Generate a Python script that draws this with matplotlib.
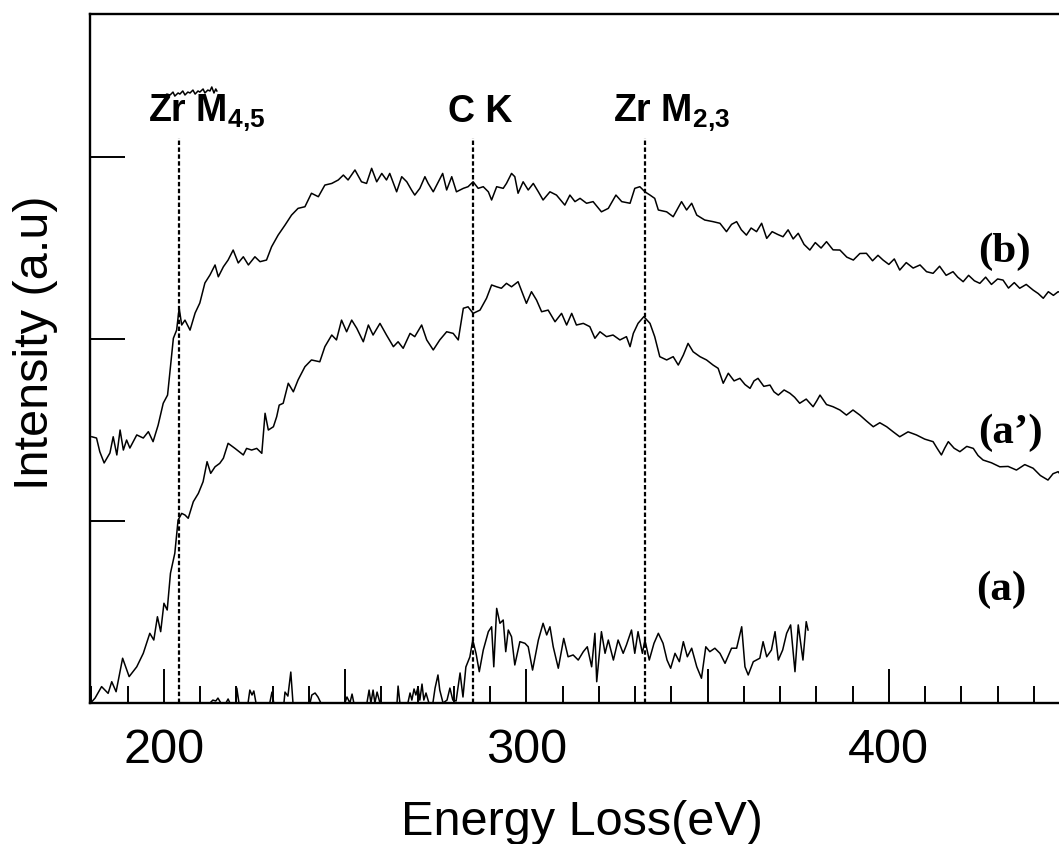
"""EELS spectra (a), (a'), (b) with Zr M4,5 / C K / Zr M2,3 edge markers."""
import matplotlib
matplotlib.use("Agg")
import matplotlib.pyplot as plt
from matplotlib.ticker import MultipleLocator, FuncFormatter

plt.rcParams.update({"font.family": "Liberation Sans",
                     "mathtext.fontset": "custom",
                     "mathtext.rm": "Liberation Sans",
                     "mathtext.bf": "Liberation Sans:bold"})

# ---- data (energy loss in eV, intensity in arbitrary units) ----------------
e_b = [180.1, 181.4, 182.3, 183.5, 185.1, 186.0, 187.0, 187.9, 188.8, 189.7, 190.6, 192.5,
       194.3, 195.7, 197.0, 198.4, 199.8, 201.0, 201.9, 202.6, 203.5, 204.2, 204.9, 205.8,
       207.2, 208.6, 209.9, 211.3, 212.7, 214.1, 215.0, 216.4, 217.7, 219.1, 220.5, 221.9,
       223.3, 225.1, 226.5, 228.3, 229.7, 231.5, 233.4, 235.2, 237.0, 238.9, 240.7, 242.6,
       244.4, 246.3, 248.1, 249.5, 250.8, 252.7, 254.5, 255.9, 257.3, 258.7, 260.1, 261.4,
       262.3, 264.2, 265.6, 267.0, 268.3, 269.2, 270.6, 272.0, 272.9, 274.3, 275.7, 276.9,
       278.0, 279.4, 280.7, 282.6, 283.9, 285.3, 286.7, 288.1, 289.5, 290.4, 291.8, 293.6,
       294.5, 295.9, 296.8, 297.7, 299.1, 300.5, 301.9, 303.3, 304.6, 306.5, 308.3, 310.6,
       312.0, 313.4, 314.8, 316.6, 318.4, 320.7, 322.6, 324.7, 326.3, 328.6, 329.9, 331.3,
       332.7, 334.1, 335.4, 336.4, 338.7, 340.5, 342.8, 344.2, 345.6, 347.0, 349.2, 351.5,
       353.4, 355.2, 356.6, 358.0, 359.3, 360.7, 362.0, 363.5, 364.9, 366.3, 367.8, 369.3,
       370.8, 372.2, 373.6, 375.0, 376.6, 378.2, 379.7, 381.3, 382.8, 384.6, 386.5, 388.4,
       390.2, 392.0, 393.8, 395.5, 397.0, 398.4, 400.0, 401.5, 403.0, 404.8, 406.7, 408.6,
       410.4, 412.2, 414.0, 415.8, 417.7, 419.0, 420.5, 422.0, 423.6, 425.1, 426.7, 428.3,
       430.0, 431.5, 433.0, 434.6, 436.1, 437.9, 439.8, 441.2, 442.6, 444.0, 445.4, 446.7,
       448.0, 449.7]
i_b = [1.463, 1.456, 1.381, 1.319, 1.374, 1.463, 1.363, 1.500, 1.390, 1.445, 1.401, 1.473,
       1.456, 1.491, 1.436, 1.527, 1.647, 1.692, 1.868, 2.004, 2.049, 2.170, 2.077, 2.104,
       2.049, 2.143, 2.198, 2.308, 2.352, 2.407, 2.342, 2.397, 2.434, 2.489, 2.418, 2.452,
       2.407, 2.452, 2.425, 2.434, 2.507, 2.571, 2.626, 2.681, 2.718, 2.727, 2.801, 2.782,
       2.846, 2.855, 2.874, 2.901, 2.874, 2.929, 2.864, 2.855, 2.938, 2.864, 2.910, 2.874,
       2.910, 2.809, 2.892, 2.864, 2.819, 2.791, 2.828, 2.892, 2.855, 2.809, 2.864, 2.910,
       2.819, 2.892, 2.809, 2.828, 2.837, 2.864, 2.828, 2.837, 2.809, 2.764, 2.837, 2.828,
       2.855, 2.910, 2.892, 2.801, 2.864, 2.819, 2.855, 2.809, 2.764, 2.809, 2.791, 2.736,
       2.791, 2.755, 2.773, 2.746, 2.755, 2.699, 2.718, 2.791, 2.755, 2.746, 2.828, 2.837,
       2.809, 2.791, 2.773, 2.709, 2.699, 2.672, 2.755, 2.709, 2.746, 2.681, 2.654, 2.645,
       2.636, 2.590, 2.630, 2.645, 2.600, 2.571, 2.610, 2.590, 2.636, 2.553, 2.590, 2.575,
       2.562, 2.600, 2.550, 2.581, 2.520, 2.489, 2.530, 2.500, 2.535, 2.490, 2.489, 2.450,
       2.434, 2.470, 2.471, 2.430, 2.460, 2.434, 2.410, 2.440, 2.379, 2.420, 2.390, 2.407,
       2.370, 2.361, 2.400, 2.350, 2.370, 2.340, 2.315, 2.350, 2.320, 2.306, 2.340, 2.300,
       2.330, 2.324, 2.280, 2.310, 2.279, 2.300, 2.269, 2.250, 2.224, 2.260, 2.240, 2.260,
       2.250, 2.260]

e_ap = [180.1, 181.0, 182.8, 184.6, 185.6, 186.8, 188.6, 190.4, 192.5, 194.3, 196.1, 197.2,
        198.2, 199.1, 200.0, 200.9, 201.8, 203.0, 203.9, 204.9, 205.8, 206.7, 208.1, 209.5,
        210.8, 211.9, 212.9, 214.1, 215.4, 216.4, 217.7, 219.6, 221.9, 222.8, 224.2, 225.6,
        227.0, 227.9, 228.8, 230.2, 231.1, 231.8, 232.9, 234.3, 235.7, 237.0, 238.9, 240.7,
        243.0, 244.4, 246.3, 247.6, 249.0, 250.4, 251.8, 253.2, 255.0, 256.4, 257.7, 259.6,
        261.4, 263.3, 264.6, 266.0, 267.9, 269.2, 271.1, 272.5, 274.3, 276.1, 278.0, 279.8,
        281.2, 282.6, 283.9, 285.3, 287.2, 289.0, 290.4, 291.8, 293.1, 294.5, 295.9, 297.7,
        298.6, 300.0, 301.4, 302.8, 304.2, 306.0, 307.9, 309.7, 311.1, 312.5, 313.8, 315.7,
        317.5, 318.9, 320.3, 322.1, 323.9, 325.8, 327.6, 328.6, 329.5, 330.8, 332.4, 334.1,
        335.4, 336.8, 338.7, 340.5, 341.9, 343.3, 344.6, 346.0, 347.9, 349.7, 351.5, 352.9,
        354.3, 355.7, 357.3, 358.9, 360.3, 361.7, 362.8, 363.9, 365.5, 367.2, 368.3, 369.5,
        371.1, 372.7, 374.0, 375.4, 377.2, 379.1, 380.1, 381.0, 382.8, 384.6, 386.5, 388.3,
        390.1, 392.0, 393.8, 395.7, 397.5, 399.4, 401.2, 403.0, 405.3, 407.6, 409.9, 412.2,
        413.3, 414.5, 415.4, 416.4, 418.0, 419.6, 421.5, 423.3, 424.6, 426.0, 428.3, 430.6,
        432.9, 435.2, 437.5, 439.8, 441.8, 443.9, 445.3, 446.7, 448.0, 449.7]
i_ap = [0.007, 0.027, 0.090, 0.053, 0.117, 0.062, 0.246, 0.145, 0.199, 0.273, 0.383, 0.346,
        0.474, 0.392, 0.548, 0.511, 0.713, 0.823, 1.005, 1.042, 1.033, 1.015, 1.106, 1.152,
        1.216, 1.326, 1.262, 1.298, 1.317, 1.345, 1.427, 1.399, 1.363, 1.399, 1.390, 1.399,
        1.372, 1.592, 1.500, 1.518, 1.573, 1.637, 1.647, 1.757, 1.710, 1.775, 1.848, 1.885,
        1.875, 1.958, 2.022, 1.995, 2.104, 2.040, 2.104, 2.059, 1.985, 2.077, 2.022, 2.086,
        2.022, 1.958, 1.985, 1.949, 2.031, 2.013, 2.077, 1.995, 1.940, 1.995, 2.040, 2.031,
        1.995, 2.169, 2.177, 2.141, 2.159, 2.224, 2.297, 2.287, 2.279, 2.306, 2.287, 2.315,
        2.269, 2.196, 2.260, 2.214, 2.150, 2.159, 2.095, 2.141, 2.077, 2.141, 2.077, 2.086,
        2.068, 2.004, 2.040, 2.013, 2.022, 1.995, 2.013, 1.958, 2.031, 2.086, 2.123, 2.086,
        2.013, 1.903, 1.885, 1.903, 1.857, 1.912, 1.976, 1.930, 1.903, 1.885, 1.857, 1.839,
        1.757, 1.812, 1.770, 1.784, 1.750, 1.729, 1.770, 1.784, 1.740, 1.747, 1.710, 1.692,
        1.720, 1.702, 1.680, 1.647, 1.670, 1.628, 1.660, 1.692, 1.640, 1.628, 1.610, 1.582,
        1.610, 1.582, 1.550, 1.518, 1.540, 1.518, 1.490, 1.463, 1.490, 1.473, 1.450, 1.436,
        1.400, 1.363, 1.400, 1.436, 1.400, 1.381, 1.410, 1.399, 1.360, 1.335, 1.320, 1.298,
        1.300, 1.280, 1.310, 1.290, 1.250, 1.225, 1.260, 1.271, 1.240, 1.250]

e_a = [179.9, 212.7, 213.5, 214.3, 214.9, 215.7, 217.1, 217.7, 218.2, 219.9, 220.1, 220.7,
       223.2, 223.7, 224.3, 224.8, 225.4, 229.2, 229.8, 230.3, 233.1, 233.4, 234.2, 235.0,
       235.6, 240.3, 240.8, 241.7, 242.5, 243.3, 249.9, 250.5, 251.3, 251.9, 252.4, 256.0,
       256.6, 257.1, 257.7, 258.2, 258.8, 259.6, 264.3, 264.6, 265.1, 267.3, 267.9, 268.4,
       269.0, 269.5, 270.1, 270.6, 271.2, 271.7, 272.3, 273.1, 274.2, 274.8, 275.6, 276.1,
       277.0, 278.1, 278.9, 279.7, 280.6, 281.7, 282.5, 283.3, 284.4, 285.2, 286.1, 287.0,
       288.1, 289.5, 290.4, 291.0, 291.8, 292.7, 293.6, 294.3, 295.0, 295.9, 296.8, 298.2,
       299.6, 300.5, 301.7, 303.3, 304.6, 305.6, 306.5, 307.4, 308.8, 310.3, 311.5, 312.9,
       314.3, 315.7, 316.8, 318.0, 318.9, 319.4, 320.7, 321.7, 322.6, 324.0, 325.3, 326.7,
       327.6, 329.0, 329.9, 330.8, 332.0, 332.7, 333.9, 335.2, 336.4, 337.7, 338.8, 339.8,
       341.0, 342.2, 343.3, 344.4, 345.6, 347.0, 348.3, 349.5, 350.6, 352.0, 353.4, 354.8,
       356.6, 358.0, 359.4, 360.3, 361.2, 362.6, 364.4, 365.3, 366.3, 367.6, 368.6, 369.5,
       370.7, 371.8, 372.9, 374.1, 375.0, 376.3, 377.2, 377.7]
i_a = [0.0, 0.0, 0.016, 0.011, 0.027, 0.0, 0.0, 0.022, 0.0, 0.0, 0.082, 0.0,
       0.0, 0.071, 0.044, 0.066, 0.0, 0.0, 0.060, 0.0, 0.0, 0.060, 0.038, 0.170,
       0.0, 0.0, 0.044, 0.055, 0.033, 0.0, 0.0, 0.033, 0.0, 0.049, 0.0, 0.0,
       0.071, 0.0, 0.071, 0.0, 0.060, 0.0, 0.0, 0.093, 0.0, 0.0, 0.055, 0.016,
       0.077, 0.044, 0.088, 0.016, 0.104, 0.016, 0.055, 0.0, 0.0, 0.082, 0.154, 0.071,
       0.0, 0.016, 0.082, 0.016, 0.011, 0.165, 0.033, 0.198, 0.253, 0.346, 0.273, 0.172,
       0.291, 0.392, 0.419, 0.199, 0.520, 0.438, 0.456, 0.282, 0.401, 0.364, 0.209, 0.337,
       0.328, 0.309, 0.181, 0.346, 0.438, 0.374, 0.419, 0.309, 0.191, 0.355, 0.254, 0.264,
       0.236, 0.282, 0.309, 0.199, 0.383, 0.117, 0.392, 0.273, 0.346, 0.236, 0.346, 0.273,
       0.319, 0.401, 0.273, 0.392, 0.273, 0.346, 0.236, 0.328, 0.383, 0.328, 0.236, 0.191,
       0.273, 0.227, 0.337, 0.254, 0.301, 0.199, 0.136, 0.309, 0.282, 0.301, 0.273, 0.218,
       0.301, 0.301, 0.419, 0.199, 0.154, 0.227, 0.246, 0.337, 0.254, 0.291, 0.392, 0.236,
       0.291, 0.383, 0.429, 0.172, 0.429, 0.236, 0.447, 0.401]

# short stray trace near the top-left label
e_top = [199.7, 200.8, 201.7, 202.5, 203.0, 203.9, 204.4, 205.2, 205.8, 206.6, 207.2, 208.0,
         208.6, 209.4, 209.9, 210.8, 211.3, 212.1, 212.7, 213.2, 213.8, 214.3, 214.6]
i_top = [3.330, 3.346, 3.341, 3.357, 3.335, 3.352, 3.346, 3.363, 3.341, 3.357, 3.352, 3.368,
         3.346, 3.363, 3.357, 3.374, 3.352, 3.368, 3.363, 3.385, 3.352, 3.374, 3.363]

edges = [204.2, 285.2, 332.6]
edge_top = 3.104
edge_labels = [r"Zr M$_{\mathbf{4{,}5}}$", "C K", r"Zr M$_{\mathbf{2{,}3}}$"]
edge_label_x = [195.7, 278.3, 324.0]
edge_label_y = 3.194

curve_labels = ["(b)", "(a\u2019)", "(a)"]
curve_label_x = [424.6, 424.6, 424.2]
curve_label_y = [2.425, 1.429, 0.566]

# ---- figure ---------------------------------------------------------------
W, H = 1059, 844
fig = plt.figure(figsize=(W / 100, H / 100), dpi=100)
ax = fig.add_axes([90 / W, 1 - 703 / H, 979 / W, 689 / H])

lw = 1.1
ax.plot(e_b, i_b, color="black", lw=lw)
ax.plot(e_ap, i_ap, color="black", lw=lw)
ax.plot(e_a, i_a, color="black", lw=lw)
ax.plot(e_top, i_top, color="black", lw=lw)

for x in edges:
    ax.plot([x, x], [0, edge_top], color="black", lw=1.6, ls=(0, (2.0, 1.1)))

for t, x in zip(edge_labels, edge_label_x):
    ax.text(x, edge_label_y, t, fontsize=27, fontweight="bold", ha="left", va="baseline")

for t, x, y in zip(curve_labels, curve_label_x, curve_label_y):
    ax.text(x, y, t, fontsize=31, fontweight="bold", family="Liberation Serif",
            ha="left", va="baseline")

ax.set_xlim(179.6, 449.7)
ax.set_ylim(0, 3.786)

ax.xaxis.set_major_locator(MultipleLocator(50))
ax.xaxis.set_minor_locator(MultipleLocator(10))
ax.xaxis.set_major_formatter(FuncFormatter(lambda v, p: f"{v:.0f}" if v % 100 == 0 else ""))
ax.yaxis.set_major_locator(MultipleLocator(1))
ax.yaxis.set_major_formatter(FuncFormatter(lambda v, p: ""))
ax.tick_params(axis="x", which="major", direction="in", length=24.5, width=1.4,
               labelsize=35, pad=18, top=False)
ax.tick_params(axis="x", which="minor", direction="in", length=12, width=1.4, top=False)
ax.tick_params(axis="y", which="major", direction="in", length=25, width=1.4, right=False)

for s in ["left", "top", "bottom"]:
    ax.spines[s].set_linewidth(1.7)
ax.spines["right"].set_visible(False)

fig.text(582 / W, 1 - 835 / H, "Energy Loss(eV)", fontsize=35, ha="center", va="baseline")
fig.text(36 / W, 1 - 343 / H, "Intensity (a.u)", fontsize=35, rotation=90,
         ha="center", va="center")

fig.savefig("out.png", dpi=100)
